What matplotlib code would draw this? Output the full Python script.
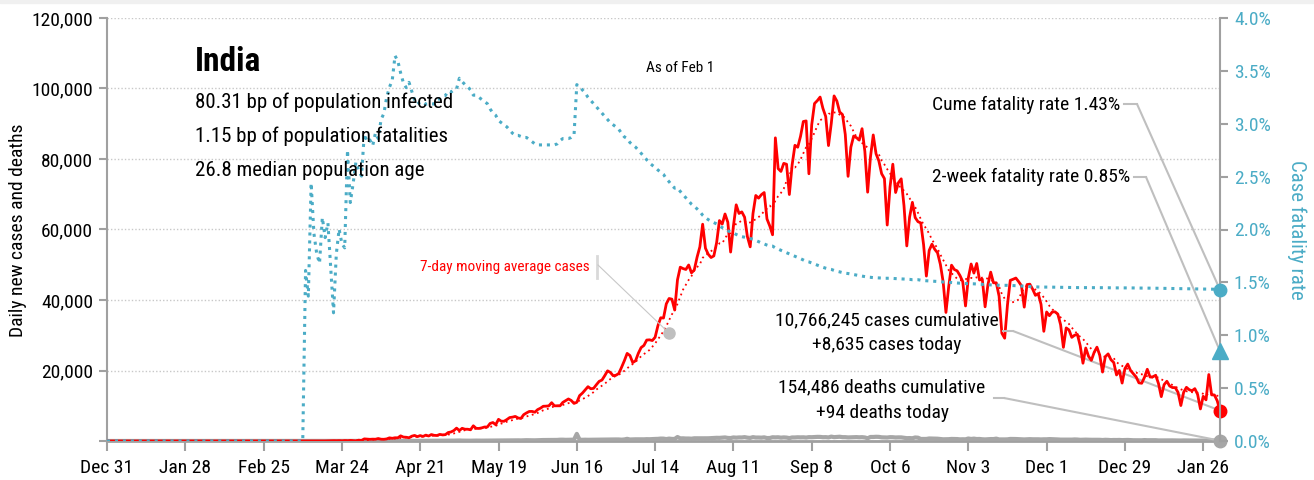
import numpy as np
import pandas as pd
import matplotlib
matplotlib.use('Agg')
import matplotlib.pyplot as plt
from matplotlib import font_manager
from matplotlib.lines import Line2D
from matplotlib.patches import Rectangle
from matplotlib.ticker import FuncFormatter

# pick a narrow face if one is installed
installed = {f.name for f in font_manager.fontManager.ttflist}
face = next((n for n in ['Liberation Sans Narrow', 'Roboto Condensed', 'DejaVu Sans']
             if n in installed), 'DejaVu Sans')
plt.rcParams['font.family'] = [face, 'DejaVu Sans']

# ---- daily new cases, Dec 31 2019 .. Feb 1 2021 ----
cases_dec19 = [0]
cases_jan20 = [0, 0, 0, 0, 0, 0, 0, 0, 0, 0,
               0, 0, 0, 0, 0, 0, 0, 0, 0, 0,
               0, 0, 0, 0, 0, 0, 0, 0, 0, 1, 0]
cases_feb20 = [0, 1, 1, 0, 0, 0, 0, 0, 0, 0,
               0, 0, 0, 0, 0, 0, 0, 0, 0, 0,
               0, 0, 0, 0, 0, 0, 0, 0, 0]
cases_mar20 = [0, 2, 1, 22, 2, 1, 3, 5, 4, 13, 6, 11, 9, 20, 11, 6, 23, 14, 38, 50,
               86, 66, 103, 37, 121, 70, 160, 100, 37, 227, 146]
cases_apr20 = [601, 545, 478, 525, 505, 704, 508, 485, 591, 896, 768, 918, 905, 1463, 1118,
               1061, 922, 1371, 1580, 1239, 1537, 1292, 1667, 1408, 1835, 1607, 1561, 1873,
               1738, 1801]
cases_may20 = [2396, 2564, 2952, 3656, 2971, 3602, 3344, 3339, 3175, 4311, 3592, 3562, 3726,
               3967, 3970, 4987, 5242, 4630, 6147, 5611, 5609, 6088, 6654, 6767, 6977, 6535,
               6387, 7466, 7964, 8380, 8392]
cases_jun20 = [8171, 8909, 9304, 9851, 9887, 9971, 10864, 9983, 9987, 9985, 10956, 11458,
               11929, 11502, 10667, 10974, 12881, 13586, 14516, 15413, 14821, 14933, 15968,
               16922, 17296, 18552, 19906, 19459, 18522, 18653]
cases_jul20 = [19148, 20903, 22771, 24850, 24248, 22252, 22752, 24879, 26506, 27114, 28637,
               28701, 28498, 29429, 32695, 34956, 34884, 38902, 40425, 40243, 37148, 45720,
               49310, 48916, 48661, 49931, 47703, 48513, 52123, 55079, 61500]
cases_aug20 = [54700, 52972, 52050, 52509, 56282, 62538, 61537, 64399, 62064, 53601, 60963,
               66999, 64553, 65002, 63490, 57981, 55079, 64531, 69652, 68898, 69878, 70488,
               63000, 61000, 58500, 86000, 77266, 76472, 78761, 78512, 69921]
cases_sep20 = [78357, 83883, 83341, 86432, 90632, 90802, 75809, 89706, 95735, 96551, 97570,
               94372, 92071, 83809, 90123, 97894, 96424, 93337, 92605, 86961, 75083, 83347,
               86508, 86052, 85362, 88600, 82170, 70589, 80472, 86821]
cases_oct20 = [81484, 79476, 75829, 74442, 61267, 72049, 78524, 70496, 73272, 74383, 66732,
               55342, 63509, 67708, 63371, 62212, 61871, 55722, 46790, 54044, 55839, 54366,
               53370, 50129, 45148, 36470, 43893, 49881, 48648, 48268, 46963]
cases_nov20 = [45231, 38310, 46253, 50210, 47638, 50357, 45674, 45903, 38073, 44281, 47905,
               44879, 44878, 41100, 30548, 29164, 38617, 45576, 45882, 46232, 45209, 44059,
               37975, 44376, 44489, 43082, 41322, 41810, 38772, 31118]
cases_dec20 = [36604, 35551, 36595, 36652, 36011, 32981, 26567, 32080, 31521, 29398, 30006,
               30254, 27071, 22065, 26382, 24010, 22890, 25152, 26624, 24337, 19556, 23950,
               24712, 23067, 22272, 18732, 20021, 16432, 20549, 21822, 20035]
cases_jan21 = [19078, 18177, 16504, 16375, 18088, 20346, 18139, 18222, 18645, 16311, 12584,
               15968, 16946, 15590, 15158, 15144, 13788, 10064, 13823, 15223, 14545, 14256,
               14849, 13203, 9102, 12689, 11666, 18855, 13083, 13052, 11427]
cases_feb21 = [8635]

# ---- daily new deaths ----
deaths_dec19 = [0]
deaths_jan20 = [0, 0, 0, 0, 0, 0, 0, 0, 0, 0,
                0, 0, 0, 0, 0, 0, 0, 0, 0, 0,
                0, 0, 0, 0, 0, 0, 0, 0, 0, 0, 0]
deaths_feb20 = [0, 0, 0, 0, 0, 0, 0, 0, 0, 0,
                0, 0, 0, 0, 0, 0, 0, 0, 0, 0,
                0, 0, 0, 0, 0, 0, 0, 0, 0]
deaths_mar20 = [0, 0, 0, 0, 0, 0, 0, 0, 0, 0, 1, 0, 1, 0, 0, 0, 1, 0, 1, 0,
                0, 3, 3, 0, 2, 8, 0, 4, 3, 5, 3]
deaths_apr20 = [23, 14, 14, 13, 19, 18, 24, 18, 28, 36, 31, 52, 28, 40, 27, 30, 38, 33, 38,
                33, 53, 41, 49, 45, 59, 51, 60, 65, 65, 60]
deaths_may20 = [94, 81, 106, 126, 149, 107, 97, 101, 87, 110, 117, 102, 105, 112, 110, 114,
                126, 123, 136, 148, 145, 157, 158, 158, 174, 189, 169, 198, 229, 204, 201]
deaths_jun20 = [192, 229, 261, 276, 277, 279, 304, 279, 308, 366, 371, 328, 341, 362, 375,
                2018, 360, 341, 364, 342, 354, 349, 373, 392, 394, 423, 452, 427, 444, 441]
deaths_jul20 = [434, 379, 442, 613, 425, 467, 482, 475, 487, 475, 519, 500, 553, 582, 606,
                687, 671, 543, 681, 587, 587, 1129, 740, 757, 705, 708, 654, 768, 775, 779, 764]
deaths_aug20 = [764, 771, 803, 857, 904, 886, 933, 1007, 871, 834, 1007, 942, 1007, 996, 1092,
                944, 876, 1092, 977, 983, 945, 1033, 836, 848, 1059, 1023, 1057, 948, 1021,
                971, 819]
deaths_sep20 = [1005, 1003, 1056, 1025, 1049, 976, 1093, 1075, 1132, 1169, 1161, 1074, 1096,
                1014, 1243, 1092, 1134, 1207, 1090, 1090, 1013, 1045, 1089, 1101, 1049, 1084,
                999, 776, 1139, 1141]
deaths_oct20 = [1195, 1169, 1040, 1003, 984, 1086, 1071, 995, 1026, 1018, 916, 806, 830, 780,
                995, 937, 579, 579, 587, 717, 702, 690, 650, 578, 480, 488, 517, 587, 563, 551,
                470]
deaths_nov20 = [490, 474, 704, 577, 670, 559, 578, 490, 448, 514, 550, 547, 670, 447, 435, 449,
                474, 585, 584, 564, 511, 480, 442, 480, 524, 485, 492, 485, 443, 482]
deaths_dec20 = [482, 540, 512, 482, 442, 391, 385, 402, 354, 391, 442, 413, 336, 355, 387, 355,
                338, 347, 341, 333, 279, 341, 312, 251, 289, 279, 301, 252, 286, 299, 256]
deaths_jan21 = [217, 214, 214, 201, 264, 222, 234, 264, 228, 161, 167, 202, 181, 191, 175, 162,
                161, 137, 162, 151, 163, 152, 131, 127, 131, 137, 123, 163, 127, 128, 120]
deaths_feb21 = [94]

# headline figures
total_cases = 10766245
total_deaths = 154486
cume_cfr = 1.43
two_week_cfr = 0.85
stats_lines = ['80.31 bp of population infected',
               '1.15 bp of population fatalities',
               '26.8 median population age']

days = pd.date_range('2019-12-31', '2021-02-01', freq='D')
cases = pd.Series(np.concatenate([cases_dec19, cases_jan20, cases_feb20, cases_mar20,
                                  cases_apr20, cases_may20, cases_jun20, cases_jul20,
                                  cases_aug20, cases_sep20, cases_oct20, cases_nov20,
                                  cases_dec20, cases_jan21, cases_feb21]), index=days)
deaths = pd.Series(np.concatenate([deaths_dec19, deaths_jan20, deaths_feb20, deaths_mar20,
                                   deaths_apr20, deaths_may20, deaths_jun20, deaths_jul20,
                                   deaths_aug20, deaths_sep20, deaths_oct20, deaths_nov20,
                                   deaths_dec20, deaths_jan21, deaths_feb21]), index=days)

avg7 = cases.rolling(7, min_periods=1).mean()
cum_cases = cases.cumsum()
cfr = (deaths.cumsum() / cum_cases.where(cum_cases > 0)).fillna(0) * 100

RED = '#ff0000'
BLUE = '#4bacc6'
GREY = '#a6a6a6'
W, H = 1314, 480


def fx(px):
    return px / W


def fy(py):
    return 1 - py / H


fig = plt.figure(figsize=(W / 100, H / 100), dpi=100)
fig.patches.append(Rectangle((0, fy(3)), 1, 1 - fy(3), transform=fig.transFigure,
                             color='#f0f0f0', zorder=0))

ax = fig.add_axes([fx(107), fy(441), (1220 - 107) / W, (441 - 18) / H])
ax2 = ax.twinx()

ax.plot(days, deaths, color=GREY, lw=3, zorder=3)
ax.plot(days, cases, color=RED, lw=2, zorder=4)
ax.plot(days, avg7, color=RED, lw=1.3, ls=(0, (1, 2)), zorder=4)
ax2.plot(days, cfr, color=BLUE, lw=2.2, ls=(0, (1, 1.6)))

# end-of-series markers
ax.plot(days[-1], cases.iloc[-1], 'o', color=RED, ms=9, clip_on=False, zorder=6)
ax.plot(days[-1], deaths.iloc[-1], 'o', color=GREY, ms=9, clip_on=False, zorder=6)
ax2.plot(days[-1], cume_cfr, 'o', color=BLUE, ms=9, clip_on=False, zorder=6)
ax2.plot(days[-1], two_week_cfr, '^', color=BLUE, ms=11, clip_on=False, zorder=6)

ax.set_xlim(days[0], days[-1])
ax.set_ylim(0, 120000)
ax2.set_ylim(0, 4)

xt = pd.date_range('2019-12-31', periods=15, freq='28D')
ax.set_xticks(xt)
ax.set_xticklabels([f'{d:%b} {d.day}' for d in xt])
ax.set_yticks(np.arange(0, 120001, 20000))
ax.yaxis.set_major_formatter(FuncFormatter(lambda v, _: '' if v == 0 else f'{v:,.0f}'))
ax2.set_yticks(np.arange(0, 4.01, 0.5))
ax2.yaxis.set_major_formatter(FuncFormatter(lambda v, _: f'{v:.1f}%'))

ax.yaxis.grid(True, color='#c8c8c8', ls=(0, (1, 1.5)), lw=1)
ax.set_axisbelow(True)

for a in (ax, ax2):
    a.spines['top'].set_visible(False)
ax.spines['right'].set_visible(False)
ax2.spines['left'].set_visible(False)
ax2.spines['bottom'].set_visible(False)
ax.spines['left'].set_color('#a0a0a0')
ax.spines['left'].set_linewidth(1.5)
ax.spines['bottom'].set_color('#a0a0a0')
ax.spines['bottom'].set_linewidth(2)
ax2.spines['right'].set_color('#a0a0a0')
ax2.spines['right'].set_linewidth(1.5)

ax.tick_params(axis='y', length=6, width=1.5, color='#a0a0a0', labelsize=14, pad=4)
ax.tick_params(axis='x', length=7, width=1.5, color='#a0a0a0', labelsize=14, pad=6)
ax2.tick_params(axis='y', length=6, width=1.5, color='#a0a0a0', labelsize=14,
                labelcolor=BLUE, pad=4)

fig.text(fx(18), fy(230), 'Daily new cases and deaths', rotation=90, ha='center',
         va='center', fontsize=14)
fig.text(fx(1297), fy(230), 'Case fatality rate', rotation=270, ha='center', va='center',
         fontsize=15, color=BLUE)

# title block
fig.text(fx(195), fy(62), 'India', ha='left', va='center', fontsize=24, fontweight='bold')
for py, line in zip([102, 136, 170], stats_lines):
    fig.text(fx(195), fy(py), line, ha='left', va='center', fontsize=15)
fig.text(fx(680), fy(68), 'As of Feb 1', ha='center', va='center', fontsize=11)

leader = dict(arrowstyle='-', color='#bfbfbf', lw=1.5, shrinkA=0, shrinkB=0)


def callout(axis, y_val, start, stop):
    fig.lines.append(Line2D([fx(start[0]), fx(stop)], [fy(start[1])] * 2,
                            transform=fig.transFigure, color='#bfbfbf', lw=1.5))
    axis.annotate('', xy=(days[-1], y_val), xycoords='data',
                  xytext=(fx(stop), fy(start[1])), textcoords='figure fraction',
                  arrowprops=leader, annotation_clip=False)


fig.text(fx(1120), fy(105), f'Cume fatality rate {cume_cfr:.2f}%', ha='right', va='center',
         fontsize=14)
callout(ax2, cume_cfr, (1124, 104), 1137)
fig.text(fx(1130), fy(177), f'2-week fatality rate {two_week_cfr:.2f}%', ha='right',
         va='center', fontsize=14)
callout(ax2, two_week_cfr, (1134, 177), 1146)

fig.text(fx(887), fy(320), f'{total_cases:,} cases cumulative', ha='center', va='center',
         fontsize=14)
fig.text(fx(887), fy(345), f'+{cases.iloc[-1]:,} cases today', ha='center', va='center',
         fontsize=14)
callout(ax, cases.iloc[-1], (1003, 331), 1013)

fig.text(fx(882), fy(387), f'{total_deaths:,} deaths cumulative', ha='center', va='center',
         fontsize=14)
fig.text(fx(882), fy(413), f'+{deaths.iloc[-1]:,} deaths today', ha='center', va='center',
         fontsize=14)
callout(ax, deaths.iloc[-1], (994, 398), 1004)

# moving-average label with its pointer
fig.text(fx(590), fy(267), '7-day moving average cases', ha='right', va='center',
         fontsize=11, color=RED)
fig.lines.append(Line2D([fx(597), fx(597)], [fy(256), fy(278)], transform=fig.transFigure,
                        color='#d9d9d9', lw=2))
fig.lines.append(Line2D([fx(598), fx(669)], [fy(265), fy(333)], transform=fig.transFigure,
                        color='#c8c8c8', lw=0.8))
fig.lines.append(Line2D([fx(669)], [fy(333)], transform=fig.transFigure, marker='o',
                        color='#bfbfbf', ms=8))

fig.savefig('out.png', dpi=100)
